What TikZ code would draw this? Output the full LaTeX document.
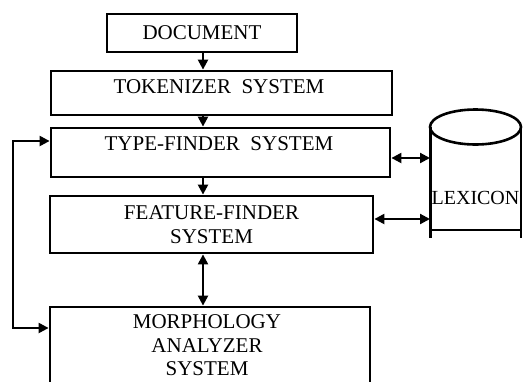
\documentclass[tikz,border=0pt]{standalone}
\usepackage{fontspec}
\setmainfont{Liberation Serif}
\usetikzlibrary{arrows.meta}
\begin{document}
\begin{tikzpicture}[x=1pt, y=-1pt,
  box/.style={draw, line width=2.8pt, rectangle, inner sep=0pt},
  txt/.style={font=\fontsize{21}{24}\selectfont, align=center, inner sep=0pt},
  arr/.style={line width=2.2pt, -{Triangle[length=10pt,width=10pt]}},
  dbl/.style={line width=2.2pt, {Triangle[length=10pt,width=10pt]}-{Triangle[length=10pt,width=10pt]}}]
  \useasboundingbox (0,0) rectangle (523,381);
  \clip (0,0) rectangle (523,381);

  % processing stages
  \node[box, txt, minimum width=190pt, minimum height=38pt] (doc) at (202,33) {DOCUMENT};
  \node[box, minimum width=341pt, minimum height=44pt] (tk) at (221.5,93) {};
  \node[txt] (tk-t) at (219,87) {TOKENIZER\ \ SYSTEM};
  \node[box, minimum width=339pt, minimum height=49pt] (tf) at (220.5,152.5) {};
  \node[txt] (tf-t) at (219,144) {TYPE-FINDER\ \ SYSTEM};
  \node[box, txt, minimum width=323pt, minimum height=57pt] (ff) at (211.5,224.5) {FEATURE-FINDER\\SYSTEM};
  \node[box, minimum width=320pt, minimum height=88pt] (mo) at (210,351) {};
  \node[txt, font=\fontsize{21}{23.5}\selectfont] (mo-t) at (207,345.5) {MORPHOLOGY\\ANALYZER\\SYSTEM};

  % lexicon store (cylinder)
  \node[draw=none, minimum width=91pt, minimum height=103pt, inner sep=0pt, outer sep=0pt] (lex) at (475.5,178.5) {};
  \node[txt, font=\fontsize{20}{24}\selectfont] (lex-t) at (475.5,198) {LEXICON};
  \draw[line width=2.6pt] (lex.north) ellipse [x radius=45.5pt, y radius=17.5pt];
  \draw[line width=3pt] (lex.north west) -- ++(0,111);
  \draw[line width=2.4pt] (lex.north east) -- ++(0,111);
  \draw[line width=2.8pt] (lex.south west) -- (lex.south east);

  % main flow
  \draw[arr] (doc.south -| 203,0) -- (tk.north -| 203,0);
  \draw[arr] (tk.south -| 203,0) -- (tf.north -| 203,0);
  \draw[arr] (tf.south -| 203,0) -- (ff.north -| 203,0);
  \draw[dbl] (ff.south -| 203,0) -- (mo.north -| 203,0);

  % lexicon lookups
  \draw[dbl] (tf.east |- 0,158) -- (lex.west |- 0,158);
  \draw[dbl] (ff.east |- 0,219) -- (lex.west |- 0,219);

  % feedback loop between analyzer and type finder
  \draw[dbl] (tf.west |- 0,141) -- (13,141) -- (13,328) -- (mo.west |- 0,328);
\end{tikzpicture}
\end{document}
